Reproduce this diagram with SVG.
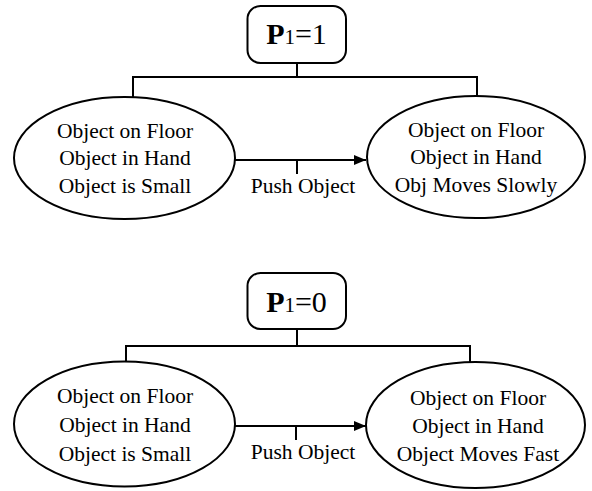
<svg xmlns="http://www.w3.org/2000/svg" width="592" height="491" viewBox="0 0 592 491">
<defs>
<marker id="ah" viewBox="0 0 12 10" refX="12" refY="5" markerWidth="12" markerHeight="10" markerUnits="userSpaceOnUse" orient="auto">
<path d="M0,0 L12,5 L0,10 Z" fill="#000"/>
</marker>
</defs>
<style>
.shape{fill:#fff;stroke:#000;stroke-width:2}
.line{fill:none;stroke:#000;stroke-width:2}
.t{font-family:"Liberation Serif","Times New Roman",serif;font-size:21.5px;fill:#000;text-anchor:middle}
.p{font-family:"Liberation Serif","Times New Roman",serif;font-size:30px;fill:#000}
.pb{font-weight:bold}
.sub{font-size:21px}
</style>
<rect width="592" height="491" fill="#fff"/>
<g id="connectors">
<path class="line" d="M297,63 V77 M133,97 V77 H477 V96"/>
<path class="line" d="M235,160 H366" marker-end="url(#ah)"/>
<path class="line" d="M297,160 V174"/>
<path class="line" d="M297,329 V346 M126,362 V346 H470 V362"/>
<path class="line" d="M235,426 H366" marker-end="url(#ah)"/>
<path class="line" d="M296,426 V440"/>
</g>
<g id="p1-top">
<rect class="shape" x="247.5" y="6" width="98.5" height="57" rx="13"/>
<text class="p" x="296.5" y="44" text-anchor="middle"><tspan class="pb">P</tspan><tspan class="sub">1</tspan>=1</text>
</g>
<g id="state-top-left">
<ellipse class="shape" cx="124.5" cy="158" rx="110.5" ry="61"/>
<text class="t" x="125" y="138">Object on Floor</text>
<text class="t" x="125" y="165">Object in Hand</text>
<text class="t" x="125" y="192.5">Object is Small</text>
</g>
<g id="state-top-right">
<ellipse class="shape" cx="476" cy="157" rx="109" ry="61"/>
<text class="t" x="476" y="137">Object on Floor</text>
<text class="t" x="476" y="164">Object in Hand</text>
<text class="t" x="476" y="191.5">Obj Moves Slowly</text>
</g>
<g id="label-top">
<text class="t" x="303" y="193">Push Object</text>
</g>
<g id="p1-bottom">
<rect class="shape" x="247.5" y="273" width="98.5" height="56" rx="13"/>
<text class="p" x="296.5" y="311.5" text-anchor="middle"><tspan class="pb">P</tspan><tspan class="sub">1</tspan>=0</text>
</g>
<g id="state-bottom-left">
<ellipse class="shape" cx="124.5" cy="424" rx="110.5" ry="62.5"/>
<text class="t" x="125" y="403">Object on Floor</text>
<text class="t" x="125" y="432">Object in Hand</text>
<text class="t" x="125" y="460.5">Object is Small</text>
</g>
<g id="state-bottom-right">
<ellipse class="shape" cx="475.5" cy="425" rx="109.5" ry="63"/>
<text class="t" x="478" y="405">Object on Floor</text>
<text class="t" x="478" y="432.5">Object in Hand</text>
<text class="t" x="478" y="460.5">Object Moves Fast</text>
</g>
<g id="label-bottom">
<text class="t" x="303" y="459">Push Object</text>
</g>
</svg>
